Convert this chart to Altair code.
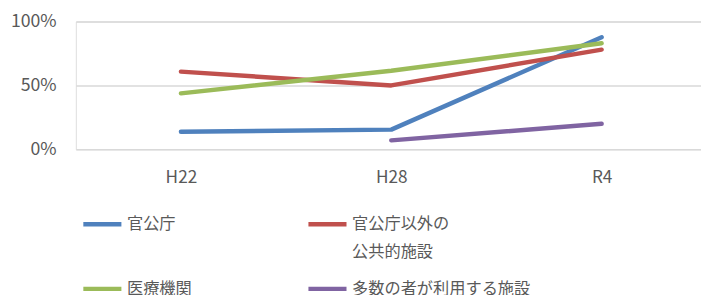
import altair as alt
import pandas as pd

years = ["H22", "H28", "R4"]
series_names = ["官公庁", "官公庁以外の公共的施設", "医療機関", "多数の者が利用する施設"]
kanko = [0.138, 0.154, 0.877]
kanko_igai = [0.608, 0.50, 0.78]
iryo = [0.438, 0.615, 0.83]
tasu = [None, 0.07, 0.20]
colors = ["#4F81BD", "#C0504D", "#9BBB59", "#8064A2"]

rows = []
for name, vals in zip(series_names, [kanko, kanko_igai, iryo, tasu]):
    for y, v in zip(years, vals):
        if v is not None:
            rows.append({"year": y, "series": name, "value": v})
df = pd.DataFrame(rows)

# legend fills column by column
legend_order = [series_names[0], series_names[2], series_names[1], series_names[3]]
legend_colors = [colors[0], colors[2], colors[1], colors[3]]

FONT = "Noto Sans CJK JP"
GRAY = "#595959"

label_expr = ("datum.label == '官公庁以外の公共的施設' ? ['官公庁以外の', '公共的施設'] "
              ": [datum.label, '']")

chart = alt.Chart(df).mark_line(strokeWidth=4.5, strokeCap="round", strokeJoin="round").encode(
    x=alt.X("year:N", sort=years, title=None,
            scale=alt.Scale(type="point", padding=0.486, align=0.514),
            axis=alt.Axis(labelAngle=0, domain=False, ticks=False, grid=False,
                          labelFontSize=17.5, labelColor=GRAY, labelFont=FONT, labelPadding=20)),
    y=alt.Y("value:Q", title=None,
            scale=alt.Scale(domain=[0, 1]),
            axis=alt.Axis(values=[0, 0.5, 1], format=".0%", domain=False, ticks=False,
                          gridColor="#D9D9D9", gridWidth=1.5,
                          labelFontSize=18, labelColor=GRAY, labelFont=FONT, labelPadding=20)),
    color=alt.Color("series:N", sort=legend_order, title=None,
                    scale=alt.Scale(domain=legend_order, range=legend_colors),
                    legend=alt.Legend(orient="none", legendX=5, legendY=184, columns=2,
                                      symbolType="stroke", symbolSize=1500, symbolStrokeWidth=4.5,
                                      labelFontSize=16.5, labelColor=GRAY, labelFont=FONT,
                                      labelOffset=3, columnPadding=109, rowPadding=7,
                                      labelLimit=300, labelExpr=label_expr)),
).properties(
    width=636, height=130,
    padding={"left": 2, "top": 2, "right": 0, "bottom": 0},
).configure_view(stroke=None).configure(style={"guide-label": {"lineHeight": 28}})

chart.save("out.html", embed_options={"renderer": "svg", "actions": False})
